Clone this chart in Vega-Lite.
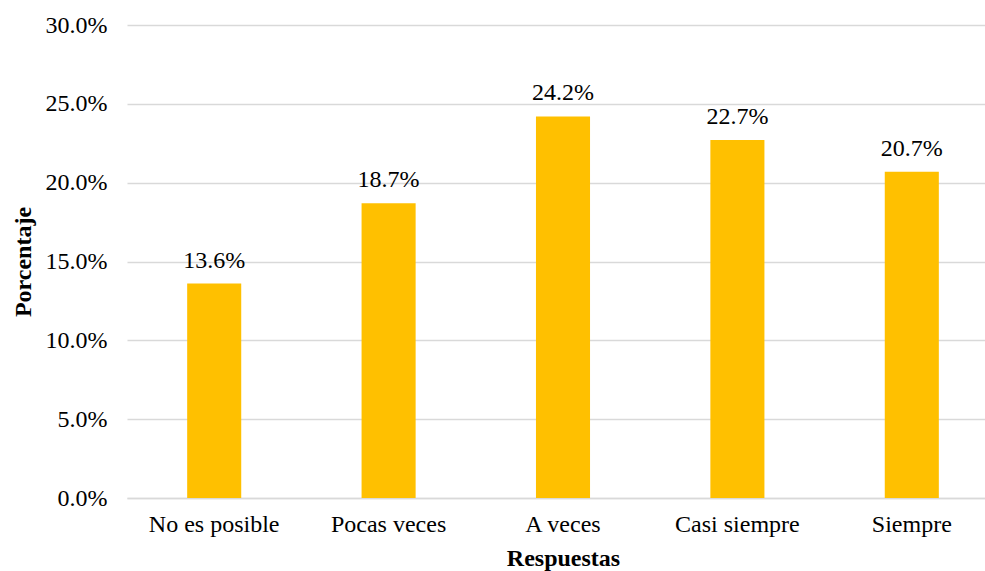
{
  "$schema": "https://vega.github.io/schema/vega-lite/v6.json",
  "autosize": "none",
  "width": 858,
  "height": 473,
  "padding": {"left": 127, "top": 25, "right": 0, "bottom": 73},
  "background": "white",
  "config": {
    "view": {"stroke": null},
    "font": "Liberation Serif"
  },
  "data": {
    "values": [
      {"respuesta": "No es posible", "porcentaje": 0.136},
      {"respuesta": "Pocas veces", "porcentaje": 0.187},
      {"respuesta": "A veces", "porcentaje": 0.242},
      {"respuesta": "Casi siempre", "porcentaje": 0.227},
      {"respuesta": "Siempre", "porcentaje": 0.207}
    ]
  },
  "encoding": {
    "x": {
      "field": "respuesta",
      "type": "nominal",
      "sort": null,
      "scale": {"range": [0, 872], "paddingInner": 0.69, "paddingOuter": 0.345},
      "axis": {
        "title": "Respuestas",
        "titleFont": "Liberation Serif",
        "titleFontSize": 24,
        "titleFontWeight": "bold",
        "titleColor": "#000000",
        "titlePadding": 10,
        "labelFont": "Liberation Serif",
        "labelFontSize": 24,
        "labelColor": "#000000",
        "labelAngle": 0,
        "labelPadding": 14,
        "ticks": false,
        "domainColor": "#D9D9D9",
        "domainWidth": 1.5
      }
    },
    "y": {
      "field": "porcentaje",
      "type": "quantitative",
      "scale": {"domain": [0, 0.3]},
      "axis": {
        "title": "Porcentaje",
        "titleFont": "Liberation Serif",
        "titleFontSize": 24,
        "titleFontWeight": "bold",
        "titleColor": "#000000",
        "titlePadding": 10,
        "format": ".1%",
        "values": [0, 0.05, 0.1, 0.15, 0.2, 0.25, 0.3],
        "labelFont": "Liberation Serif",
        "labelFontSize": 24,
        "labelColor": "#000000",
        "labelPadding": 20,
        "ticks": false,
        "domain": false,
        "gridColor": "#D9D9D9",
        "gridWidth": 1.5
      }
    }
  },
  "layer": [
    {"mark": {"type": "bar", "color": "#FFC000"}},
    {
      "mark": {"type": "text", "baseline": "alphabetic", "dy": -16, "fontSize": 24, "font": "Liberation Serif", "color": "#000000"},
      "encoding": {"text": {"field": "porcentaje", "type": "quantitative", "format": ".1%"}}
    }
  ]
}
